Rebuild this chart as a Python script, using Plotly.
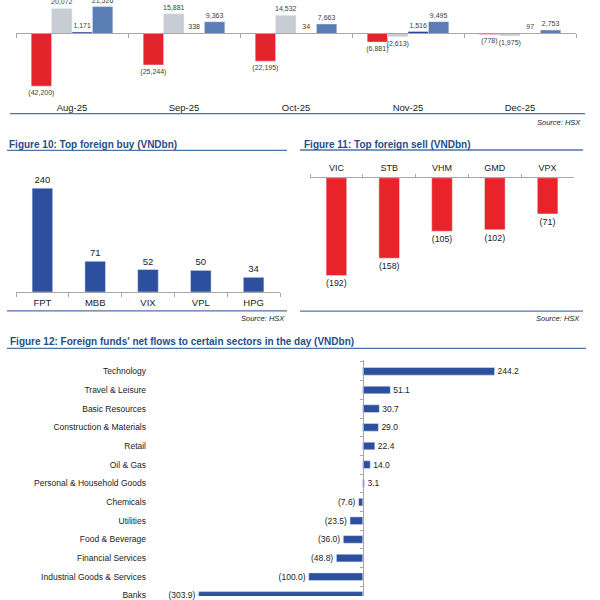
import plotly.graph_objects as go

# ---------------- data ----------------
months = ["Aug-25", "Sep-25", "Oct-25", "Nov-25", "Dec-25"]
s_red = [-42200, -25244, -22195, -6881, -778]
s_gray = [20072, 15881, 14532, -2613, -1975]
s_navy = [1171, 338, 34, 1516, 97]
s_steel = [21526, 9363, 7663, 9495, 2753]

buy_tickers = ["FPT", "MBB", "VIX", "VPL", "HPG"]
buy_values = [240, 71, 52, 50, 34]

sell_tickers = ["VIC", "STB", "VHM", "GMD", "VPX"]
sell_values = [-192, -158, -105, -102, -71]

sectors = ["Technology", "Travel & Leisure", "Basic Resources", "Construction & Materials",
           "Retail", "Oil & Gas", "Personal & Household Goods", "Chemicals", "Utilities",
           "Food & Beverage", "Financial Services", "Industrial Goods & Services", "Banks"]
sector_values = [244.2, 51.1, 30.7, 29.0, 22.4, 14.0, 3.1, -7.6, -23.5, -36.0, -48.8, -100.0, -303.9]


def fmt(v, dec=0):
    s = f"{abs(v):,.{dec}f}"
    return f"({s})" if v < 0 else s


def X(p):
    return p / 600.0


def Y(p):
    return 1 - p / 600.0


FONT = "Liberation Sans, Arial, sans-serif"
RED = "#E4242B"
GRAY = "#C8CDD4"
NAVY = "#1E3C8C"
STEEL = "#5B7DB5"
BLUE = "#2C4F9E"
AXC = "#A6A6A6"
TITLEC = "#1F4E8A"
RULEC = "#4F72A8"

fig = go.Figure()

# ---------- top chart ----------
for vals, col, nm in [(s_red, RED, "Series 1"), (s_gray, GRAY, "Series 2"),
                      (s_navy, NAVY, "Series 3"), (s_steel, STEEL, "Series 4")]:
    fig.add_trace(go.Bar(x=months, y=vals, name=nm, marker_color=col,
                         text=[fmt(v) for v in vals], textposition="outside",
                         textfont=dict(size=7, color="#404040", family=FONT),
                         cliponaxis=False, constraintext="none",
                         xaxis="x", yaxis="y", showlegend=False))
fig.add_trace(go.Scatter(x=months, y=[0] * len(months), mode="markers",
                         marker=dict(opacity=0), xaxis="x6", yaxis="y",
                         hoverinfo="skip", showlegend=False))

# ---------- figure 10 ----------
fig.add_trace(go.Bar(x=buy_tickers, y=buy_values, marker_color=BLUE, width=0.39,
                     text=[fmt(v) for v in buy_values], textposition="outside",
                     textfont=dict(size=9.5, color="#222", family=FONT),
                     cliponaxis=False, xaxis="x2", yaxis="y2", showlegend=False))

# ---------- figure 11 ----------
fig.add_trace(go.Bar(x=sell_tickers, y=sell_values, marker_color="#E8232A", width=0.39,
                     text=[fmt(v) for v in sell_values], textposition="outside",
                     textfont=dict(size=9, color="#222", family=FONT),
                     cliponaxis=False, xaxis="x3", yaxis="y3", showlegend=False))

# ---------- figure 12 ----------
fig.add_trace(go.Bar(y=sectors, x=sector_values, orientation="h", marker_color=BLUE, width=0.41,
                     text=[fmt(v, 1) for v in sector_values], textposition="outside",
                     textfont=dict(size=8.5, color="#222", family=FONT),
                     cliponaxis=False, constraintext="none",
                     xaxis="x4", yaxis="y4", showlegend=False))
fig.add_trace(go.Scatter(y=sectors, x=[0] * len(sectors), mode="markers",
                         marker=dict(opacity=0), xaxis="x4", yaxis="y5",
                         hoverinfo="skip", showlegend=False))

hidden = dict(visible=False, showgrid=False, zeroline=False)

fig.update_layout(
    width=600, height=600,
    margin=dict(l=0, r=0, t=0, b=0),
    paper_bgcolor="white", plot_bgcolor="rgba(0,0,0,0)",
    font=dict(family=FONT, color="#222"),
    barmode="group", bargap=0.271, bargroupgap=0,
    # top chart
    xaxis=dict(domain=[X(16), X(576)], anchor="y", type="category",
               showline=False, ticks="", showgrid=False, ticklabelstandoff=2,
               tickfont=dict(size=9.5, color="#222")),
    yaxis=dict(domain=[Y(99), 1], range=[-51990, 26830], **hidden),
    xaxis6=dict(overlaying="x", anchor="free", position=Y(33.7), type="category",
                categoryorder="array", categoryarray=months, range=[-0.5, 4.5],
                showline=True, linecolor=AXC, linewidth=1, ticks="outside", ticklen=4,
                tickcolor=AXC, tickson="boundaries", showticklabels=False, showgrid=False),
    # fig 10
    xaxis2=dict(domain=[X(16), X(280)], anchor="y2", type="category",
                showline=True, linecolor=AXC, ticks="outside", ticklen=4, tickcolor=AXC,
                tickson="boundaries", showgrid=False, ticklabelstandoff=2,
                tickfont=dict(size=9.5, color="#222")),
    yaxis2=dict(domain=[Y(294), Y(165)], range=[0, 296], **hidden),
    # fig 11
    xaxis3=dict(domain=[X(310), X(574)], anchor="y3", type="category", side="top",
                showline=True, linecolor=AXC, ticks="outside", ticklen=3, tickcolor=AXC,
                tickson="boundaries", showgrid=False, ticklabelstandoff=2,
                tickfont=dict(size=9, color="#222")),
    yaxis3=dict(domain=[Y(305), Y(179)], range=[-246, 0], **hidden),
    # fig 12
    xaxis4=dict(domain=[X(150), X(590)], anchor="y4", range=[-393.9, 420.9], **hidden),
    yaxis4=dict(domain=[0, Y(362.9)], anchor="x4", type="category",
                categoryorder="array", categoryarray=sectors, range=[12.03, -0.58],
                showline=False, ticks="", showgrid=False, zeroline=False,
                ticklabelstandoff=3, tickfont=dict(size=8.5, color="#222")),
    yaxis5=dict(overlaying="y4", anchor="free", position=X(362.7), type="category",
                categoryorder="array", categoryarray=sectors, range=[12.03, -0.58],
                showline=True, linecolor=AXC, ticks="outside", ticklen=3, tickcolor=AXC,
                tickson="boundaries", showticklabels=False, showgrid=False, zeroline=False),
)

titles = [
    ("Figure 10: Top foreign buy (VNDbn)", 7, 145.5),
    ("Figure 11: Top foreign sell (VNDbn)", 302, 145.5),
    ("Figure 12: Foreign funds' net flows to certain sectors in the day (VNDbn)", 8, 344),
]
for t, x, y in titles:
    fig.add_annotation(text=f"<b>{t}</b>", x=X(x), y=Y(y), xref="paper", yref="paper",
                       xanchor="left", yanchor="middle", showarrow=False,
                       font=dict(size=10, color=TITLEC, family=FONT))

sources = [(583, 123), (287, 321), (582, 321)]
for x, y in sources:
    fig.add_annotation(text="<i>Source: HSX</i>", x=X(x), y=Y(y), xref="paper", yref="paper",
                       xanchor="right", yanchor="middle", showarrow=False,
                       font=dict(size=7.5, color="#222", family=FONT))

rules = [(10, 585, 114.3), (7, 287, 151.3), (300, 583, 151), (7, 287, 313), (300, 583, 313.3),
         (7, 586, 350.7)]
for x0, x1, y in rules:
    fig.add_shape(type="line", xref="paper", yref="paper", x0=X(x0), x1=X(x1), y0=Y(y), y1=Y(y),
                  line=dict(color=RULEC, width=1.3))

fig.write_html("out.html", config={"displayModeBar": False},
               post_script="document.body.style.margin='0';document.body.style.overflow='hidden';")
